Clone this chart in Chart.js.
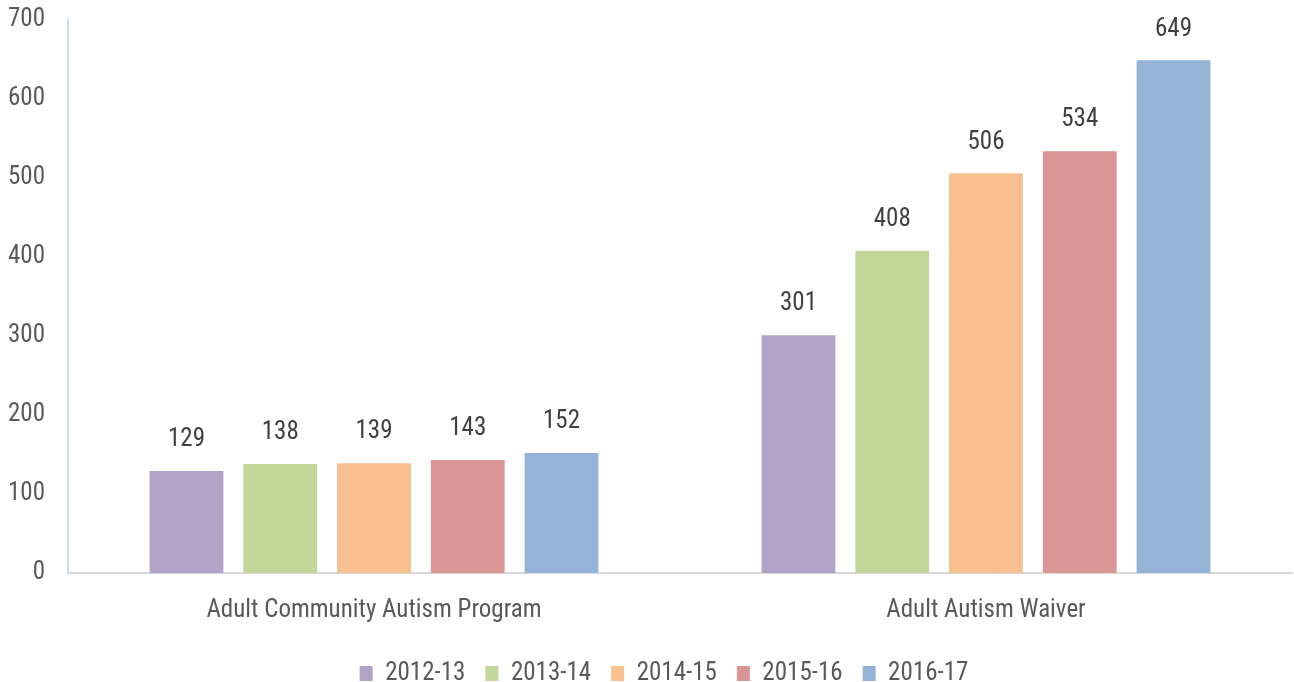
<!DOCTYPE html>
<html>
<head>
<meta charset="utf-8">
<script src="https://cdn.jsdelivr.net/npm/chart.js@4/dist/chart.umd.min.js"></script>
<style>
html,body{margin:0;padding:0;background:#fff;}
#wrap{width:1294px;height:682px;position:relative;}
</style>
</head>
<body>
<div id="wrap"><canvas id="c" width="1294" height="682"></canvas></div>
<script>
const categories = ["Adult Community Autism Program", "Adult Autism Waiver"];
const seriesNames = ["2012-13", "2013-14", "2014-15", "2015-16", "2016-17"];
const s2012 = [129, 301];
const s2013 = [138, 408];
const s2014 = [139, 506];
const s2015 = [143, 534];
const s2016 = [152, 649];
const colors = ["#B3A2C7", "#C4D79B", "#F9C090", "#D99694", "#95B3D7"];
const yTicks = [0, 100, 200, 300, 400, 500, 600, 700];

const FONT = "'Roboto Condensed', Carlito, Lato, sans-serif";
const seriesValues = [s2012, s2013, s2014, s2015, s2016];

const labelPlugin = {
  id: 'valueLabels',
  afterLayout(chart) {
    // nudge legend block slightly right, as in the reference
    if (chart.legend) { chart.legend.left += 18; chart.legend.right += 18; }
  },
  afterDatasetsDraw(chart) {
    const ctx = chart.ctx;
    ctx.save();
    ctx.font = "25px " + FONT;
    ctx.fillStyle = "#404040";
    ctx.textAlign = "center";
    ctx.textBaseline = "middle";
    chart.data.datasets.forEach((ds, i) => {
      const meta = chart.getDatasetMeta(i);
      meta.data.forEach((bar, j) => {
        ctx.fillText(String(ds.data[j]), bar.x, bar.y - 31);
      });
    });
    ctx.restore();
  }
};

new Chart(document.getElementById('c'), {
  type: 'bar',
  data: {
    labels: categories,
    datasets: seriesNames.map((n, i) => ({
      label: n,
      data: seriesValues[i],
      backgroundColor: colors[i],
      borderColor: colors[i],
      borderWidth: 0,
      barPercentage: 0.787,
      categoryPercentage: 0.766
    }))
  },
  options: {
    responsive: false,
    animation: false,
    layout: { padding: { top: 20, right: 2, left: 0, bottom: -14 } },
    plugins: {
      legend: {
        position: 'bottom',
        labels: {
          font: { family: FONT, size: 25 },
          color: '#595959',
          boxWidth: 13,
          boxHeight: 15,
          padding: 20
        }
      },
      tooltip: { enabled: false }
    },
    scales: {
      x: {
        grid: { display: false },
        border: { color: '#D9D9D9', width: 2 },
        ticks: { font: { family: FONT, size: 25 }, color: '#595959', padding: 15 }
      },
      y: {
        min: 0, max: 700,
        afterBuildTicks: (s) => { s.ticks = yTicks.map(v => ({ value: v })); },
        afterFit: (s) => { s.width = 68; s.paddingTop = 0; s.paddingBottom = 0; },
        grid: { display: false },
        border: { color: '#C5DCF0', width: 2 },
        ticks: { font: { family: FONT, size: 25 }, color: '#595959', padding: 15 }
      }
    }
  },
  plugins: [labelPlugin]
});
</script>
</body>
</html>
